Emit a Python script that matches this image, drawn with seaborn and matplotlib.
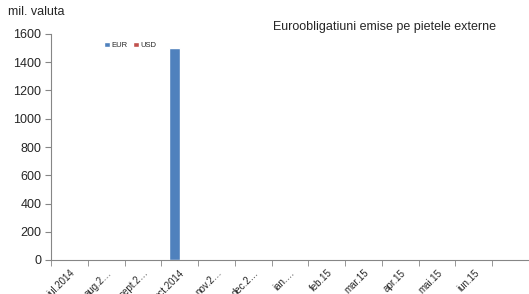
import seaborn as sns
import pandas as pd
import numpy as np
import matplotlib.pyplot as plt

months = ["iul.2014", "aug.2…", "sept.2…", "oct.2014", "nov.2…", "dec.2…",
          "ian.…", "feb.15", "mar.15", "apr.15", "mai.15", "iun.15", ""]
eur = [0, 0, 0, 1500, 0, 0, 0, 0, 0, 0, 0, 0, 0]
usd = [0, 0, 0, 0, 0, 0, 0, 0, 0, 0, 0, 0, 0]

df = pd.DataFrame({
    "luna": months * 2,
    "valoare": eur + usd,
    "moneda": ["EUR"] * len(months) + ["USD"] * len(months),
})

sns.set_style("white")
plt.rcParams['font.family'] = ['Liberation Sans', 'DejaVu Sans']

fig = plt.figure(figsize=(5.29, 2.94), dpi=100)
ax = fig.add_axes([51 / 529, 34 / 294, 478 / 529, 226 / 294])

sns.barplot(data=df, x="luna", y="valoare", hue="moneda", order=months,
            palette={"EUR": "#4F81BD", "USD": "#C0504D"}, width=0.6,
            saturation=1, ax=ax, legend=True)

ax.set_ylim(0, 1600)
ax.set_yticks(np.arange(0, 1601, 200))
ax.set_xlim(-0.5, -0.5 + 478 / 36.9)
ax.set_xlabel("")
ax.set_ylabel("")

for side in ["top", "right"]:
    ax.spines[side].set_visible(False)
for side in ["left", "bottom"]:
    ax.spines[side].set_color("#868686")
    ax.spines[side].set_linewidth(0.8)

ax.tick_params(axis="y", left=True, length=4, color="#868686", labelsize=9, pad=3)
ax.tick_params(axis="x", which="major", bottom=False, labelsize=7, pad=2)
ax.set_xticks(np.arange(len(months) + 1) - 0.5, minor=True)
ax.tick_params(axis="x", which="minor", bottom=True, length=4, color="#868686")
ax.set_xticklabels(months, rotation=45, ha="right", rotation_mode="anchor")

leg = ax.legend(loc="center left", bbox_to_anchor=(0.105, 0.95), frameon=False,
                fontsize=5.5, handlelength=0.7, handleheight=0.7, handletextpad=0.2,
                columnspacing=0.8, ncol=2, borderaxespad=0)

fig.text(8 / 529, 1 - 12 / 294, "mil. valuta", fontsize=9, va="center", ha="left")
fig.text(273 / 529, 1 - 27 / 294, "Euroobligatiuni emise pe pietele externe",
         fontsize=9, va="center", ha="left")

fig.savefig("out.png", dpi=100)
